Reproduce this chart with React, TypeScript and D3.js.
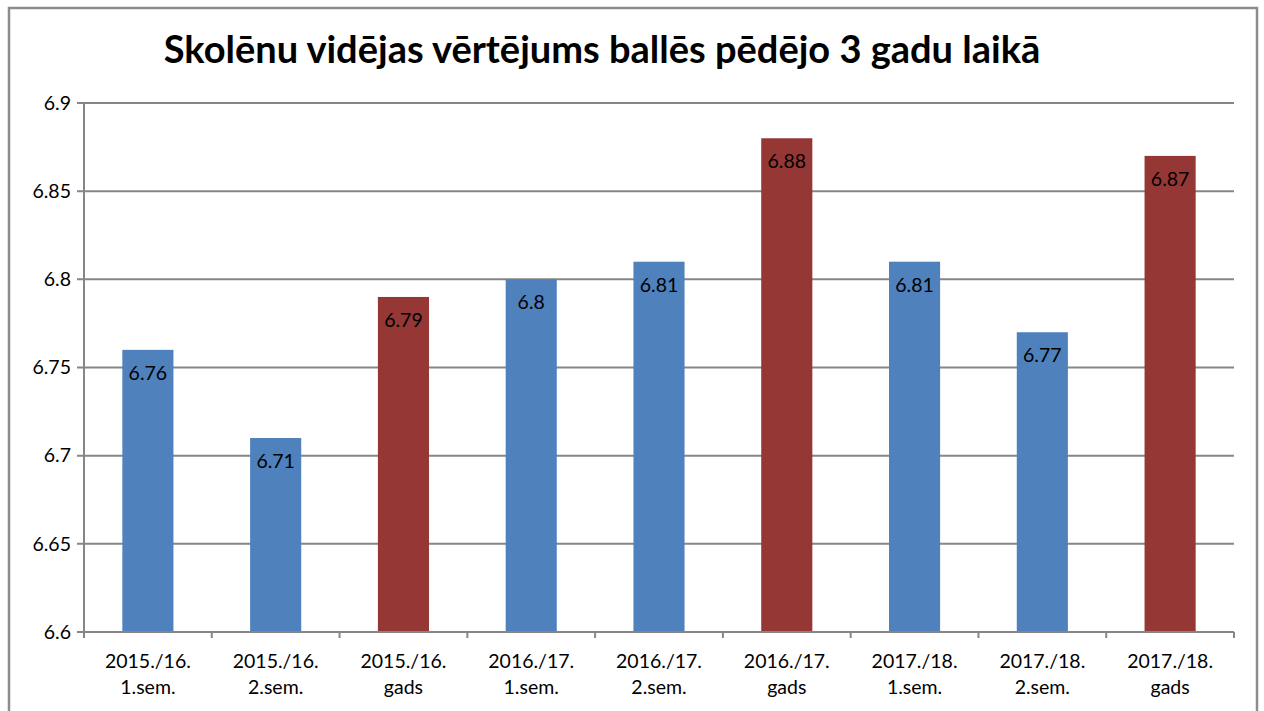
import React from 'react';
import * as d3 from 'd3';

const categories = [
  ['2015./16.', '1.sem.'],
  ['2015./16.', '2.sem.'],
  ['2015./16.', 'gads'],
  ['2016./17.', '1.sem.'],
  ['2016./17.', '2.sem.'],
  ['2016./17.', 'gads'],
  ['2017./18.', '1.sem.'],
  ['2017./18.', '2.sem.'],
  ['2017./18.', 'gads'],
];
const values = [6.76, 6.71, 6.79, 6.8, 6.81, 6.88, 6.81, 6.77, 6.87];
const isYear = [false, false, true, false, false, true, false, false, true];
const yTicks = [6.6, 6.65, 6.7, 6.75, 6.8, 6.85, 6.9];

const W = 1264;
const H = 711;
const margin = { top: 103, right: 30, bottom: 79, left: 84 };
const font = 'Lato, "Open Sans", sans-serif';
const fs = 19.5;

export default function App() {
  const keys = categories.map((_, i) => String(i));
  const x = d3.scaleBand().domain(keys).range([margin.left, W - margin.right]).paddingInner(0.6).paddingOuter(0.3);
  const y = d3.scaleLinear().domain([6.6, 6.9]).range([H - margin.bottom, margin.top]);
  const step = x.step();
  const x0 = margin.left;
  const x1 = W - margin.right;
  const yb = y(6.6);
  const grid = '#868686';

  return (
    <svg width={W} height={H} style={{ position: 'absolute', left: 0, top: 0, background: '#fff' }}>
      <rect x={9} y={8} width={1248} height={720} fill="#fff" stroke="#8c8c8c" strokeWidth={2.5} />
      <text x={602} y={63} textAnchor="middle" fontFamily={font} fontWeight="bold" fontSize={38} fill="#000">
        Skolēnu vidējas vērtējums ballēs pēdējo 3 gadu laikā
      </text>
      {yTicks.map(t => (
        <g key={t}>
          <line x1={x0 - 7} x2={x1} y1={y(t)} y2={y(t)} stroke={grid} strokeWidth={2} />
          <text x={71} y={y(t)} dy="0.35em" textAnchor="end" fontFamily={font} fontSize={fs} fill="#000">
            {t}
          </text>
        </g>
      ))}
      <line x1={x0} x2={x0} y1={margin.top} y2={yb} stroke={grid} strokeWidth={2} />
      {values.map((v, i) => (
        <rect key={i} x={x(String(i))} y={y(v)} width={x.bandwidth()} height={yb - y(v)} fill={isYear[i] ? '#953735' : '#4f81bd'} />
      ))}
      <line x1={x0} x2={x1} y1={yb} y2={yb} stroke={grid} strokeWidth={2} />
      {d3.range(categories.length + 1).map(i => (
        <line key={i} x1={x0 + i * step} x2={x0 + i * step} y1={yb} y2={yb + 6} stroke={grid} strokeWidth={2} />
      ))}
      {values.map((v, i) => (
        <text key={i} x={x(String(i))! + x.bandwidth() / 2} y={y(v) + 23} dy="0.35em" textAnchor="middle" fontFamily={font} fontSize={fs} fill="#000">
          {v}
        </text>
      ))}
      {categories.map((c, i) => (
        <text key={i} x={x(String(i))! + x.bandwidth() / 2} textAnchor="middle" fontFamily={font} fontSize={fs} fill="#000">
          <tspan x={x(String(i))! + x.bandwidth() / 2} y={668}>{c[0]}</tspan>
          <tspan x={x(String(i))! + x.bandwidth() / 2} y={694}>{c[1]}</tspan>
        </text>
      ))}
    </svg>
  );
}
